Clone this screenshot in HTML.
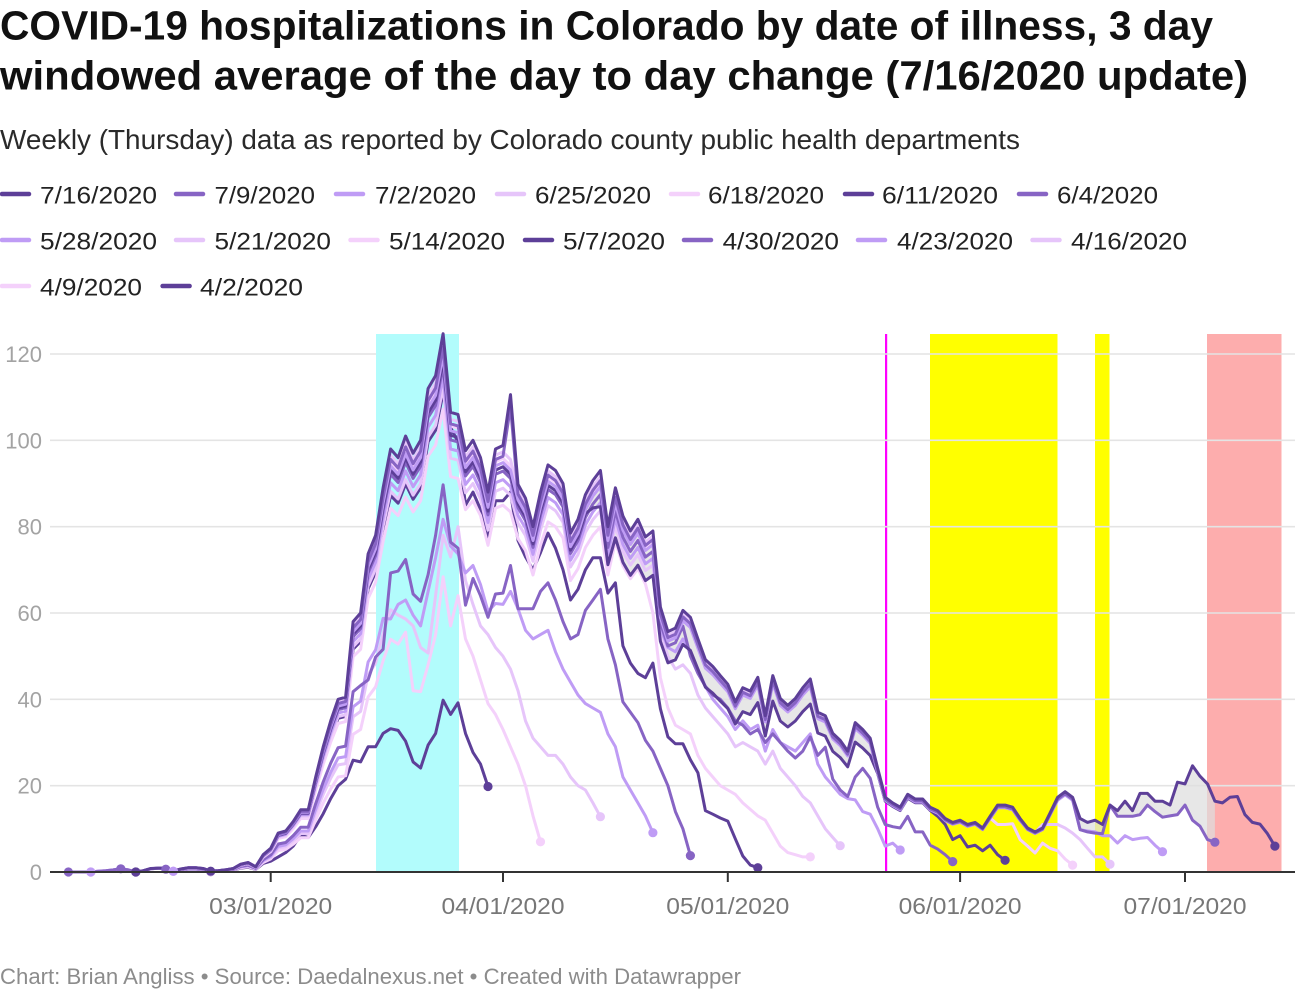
<!DOCTYPE html>
<html><head><meta charset="utf-8">
<style>
html,body{margin:0;padding:0;background:#fff;}
svg{display:block;}
text{font-family:"Liberation Sans",Arial,sans-serif;}
</style></head><body>
<svg id="c" width="1300" height="1000" viewBox="0 0 1300 1000" xmlns="http://www.w3.org/2000/svg">
<rect x="0" y="0" width="1300" height="1000" fill="#fff"/>
<!-- Titles -->
<text x="0" y="39.5" font-size="41" font-weight="bold" fill="#111" textLength="1213" lengthAdjust="spacingAndGlyphs">COVID-19 hospitalizations in Colorado by date of illness, 3 day</text>
<text x="0" y="89.5" font-size="41" font-weight="bold" fill="#111" textLength="1248" lengthAdjust="spacingAndGlyphs">windowed average of the day to day change (7/16/2020 update)</text>
<text x="0" y="149" font-size="28" fill="#2a2a2a" textLength="1020" lengthAdjust="spacingAndGlyphs">Weekly (Thursday) data as reported by Colorado county public health departments</text>

<!-- Legend -->
<g stroke-width="4.5" stroke-linecap="round">
<line x1="2" y1="194" x2="29" y2="194" stroke="#5d3f98"/>
<line x1="176" y1="194" x2="203" y2="194" stroke="#8764c4"/>
<line x1="336" y1="194" x2="363" y2="194" stroke="#bf9cf5"/>
<line x1="497" y1="194" x2="524" y2="194" stroke="#e6c5fa"/>
<line x1="671" y1="194" x2="698" y2="194" stroke="#f4d1fb"/>
<line x1="845" y1="194" x2="872" y2="194" stroke="#5d3f98"/>
<line x1="1019" y1="194" x2="1046" y2="194" stroke="#8764c4"/>

<line x1="2" y1="240" x2="29" y2="240" stroke="#bf9cf5"/>
<line x1="176" y1="240" x2="203" y2="240" stroke="#e6c5fa"/>
<line x1="350.5" y1="240" x2="377.5" y2="240" stroke="#f4d1fb"/>
<line x1="525" y1="240" x2="552" y2="240" stroke="#5d3f98"/>
<line x1="684" y1="240" x2="711" y2="240" stroke="#8764c4"/>
<line x1="858" y1="240" x2="885" y2="240" stroke="#bf9cf5"/>
<line x1="1032.5" y1="240" x2="1059.5" y2="240" stroke="#e6c5fa"/>

<line x1="2" y1="286" x2="29" y2="286" stroke="#f4d1fb"/>
<line x1="162.6" y1="286" x2="189.6" y2="286" stroke="#5d3f98"/>
</g>
<g font-size="24" fill="#222" lengthAdjust="spacingAndGlyphs">
<text x="40" y="203.5" textLength="117" lengthAdjust="spacingAndGlyphs">7/16/2020</text>
<text x="214.5" y="203.5" textLength="100.5" lengthAdjust="spacingAndGlyphs">7/9/2020</text>
<text x="375" y="203.5" textLength="101" lengthAdjust="spacingAndGlyphs">7/2/2020</text>
<text x="535" y="203.5" textLength="116" lengthAdjust="spacingAndGlyphs">6/25/2020</text>
<text x="708" y="203.5" textLength="116" lengthAdjust="spacingAndGlyphs">6/18/2020</text>
<text x="882" y="203.5" textLength="116" lengthAdjust="spacingAndGlyphs">6/11/2020</text>
<text x="1057" y="203.5" textLength="101" lengthAdjust="spacingAndGlyphs">6/4/2020</text>

<text x="40" y="249.5" textLength="117" lengthAdjust="spacingAndGlyphs">5/28/2020</text>
<text x="214.5" y="249.5" textLength="116.5" lengthAdjust="spacingAndGlyphs">5/21/2020</text>
<text x="389" y="249.5" textLength="116" lengthAdjust="spacingAndGlyphs">5/14/2020</text>
<text x="563" y="249.5" textLength="102" lengthAdjust="spacingAndGlyphs">5/7/2020</text>
<text x="722.6" y="249.5" textLength="116.4" lengthAdjust="spacingAndGlyphs">4/30/2020</text>
<text x="897" y="249.5" textLength="116" lengthAdjust="spacingAndGlyphs">4/23/2020</text>
<text x="1071" y="249.5" textLength="116" lengthAdjust="spacingAndGlyphs">4/16/2020</text>

<text x="40" y="295.5" textLength="102" lengthAdjust="spacingAndGlyphs">4/9/2020</text>
<text x="200" y="295.5" textLength="103" lengthAdjust="spacingAndGlyphs">4/2/2020</text>
</g>

<!-- Background bands (under gridlines) -->
<rect x="930" y="334" width="127.5" height="538" fill="#ffff00"/>
<rect x="1095" y="334" width="14.5" height="538" fill="#ffff00"/>
<rect x="1207" y="334" width="74.5" height="538" fill="#fdadad"/>
<rect x="885" y="334" width="2.2" height="538" fill="#ff00ff"/>

<!-- Gridlines -->
<g stroke="#e4e4e4" stroke-width="1.6">
<line x1="50" y1="354" x2="1295" y2="354"/>
<line x1="50" y1="440.3" x2="1295" y2="440.3"/>
<line x1="50" y1="526.7" x2="1295" y2="526.7"/>
<line x1="50" y1="613" x2="1295" y2="613"/>
<line x1="50" y1="699.3" x2="1295" y2="699.3"/>
<line x1="50" y1="785.7" x2="1295" y2="785.7"/>
</g>
<!-- cyan band over gridlines -->
<rect x="376" y="334" width="83" height="538" fill="#b2fcfc"/>

<!-- Y labels -->
<g font-size="22" fill="#a3a3a3" text-anchor="end">
<text x="42" y="362">120</text>
<text x="42" y="448.3">100</text>
<text x="42" y="534.7">80</text>
<text x="42" y="621">60</text>
<text x="42" y="707.3">40</text>
<text x="42" y="793.7">20</text>
<text x="42" y="880">0</text>
</g>

<g id="plot"></g>

<!-- Axis -->
<line x1="50" y1="872" x2="1295" y2="872" stroke="#333" stroke-width="2"/>
<g stroke="#333" stroke-width="2">
<line x1="270.7" y1="872" x2="270.7" y2="882"/>
<line x1="503" y1="872" x2="503" y2="882"/>
<line x1="727.8" y1="872" x2="727.8" y2="882"/>
<line x1="960.1" y1="872" x2="960.1" y2="882"/>
<line x1="1185" y1="872" x2="1185" y2="882"/>
</g>
<g font-size="23.5" fill="#777" text-anchor="middle">
<text x="270.7" y="914" textLength="123" lengthAdjust="spacingAndGlyphs">03/01/2020</text>
<text x="503" y="914" textLength="123" lengthAdjust="spacingAndGlyphs">04/01/2020</text>
<text x="727.8" y="914" textLength="123" lengthAdjust="spacingAndGlyphs">05/01/2020</text>
<text x="960.1" y="914" textLength="123" lengthAdjust="spacingAndGlyphs">06/01/2020</text>
<text x="1185" y="914" textLength="123" lengthAdjust="spacingAndGlyphs">07/01/2020</text>
</g>

<text x="0" y="984" font-size="22" fill="#8c8c8c" textLength="741" lengthAdjust="spacingAndGlyphs">Chart: Brian Angliss • Source: Daedalnexus.net • Created with Datawrapper</text>
</svg>
<script>
(function(){
var F0=[0,0,0,0,0.2,0.3,0.5,0.8,0.5,0,
0.3,0.8,0.9,0.9,0.2,0.7,1.0,1.0,0.8,0.2,
0.3,0.5,0.8,1.8,2.2,1.2,4.0,
5.5,9,9.5,11.7,14.4,14.4,22,29,35,40,
40.5,58,60,73.7,78,89,98,96,101,97,
100,112,115,124.7,106.5,106,97.6,100,96,88,
98,98.8,110.6,89.8,86.6,80,88,94.3,93,90,
78.5,81.7,87.4,90.7,93,80,89,82.5,79,81.7,
77.6,79,61.4,55.7,56.5,60.6,59,54,49.2,47.6,
45.5,43.5,39.4,42.7,41.9,45.1,36.2,45.5,40.2,38.6,
40.2,42.7,44.7,37,36.2,32.1,30.5,28,34.6,33,
31,24,17.3,16,15,18,16.9,16.9,15,14.2,
12.4,11.5,12,11,11.5,10.2,12.9,15.5,15.5,15,
12.4,10.2,9.3,10.2,13.7,17.3,18.6,17.3,12.4,11.5,
12,11,15.5,14.2,16.4,14.2,18.2,18.2,16.4,16.4,
15.5,20.8,20.4,24.6,22.2,20.4,16.4,16,17.3,17.5,
13.3,11.5,11.1,8.9,6.0];
function F(d){var v=F0[d+27];return v===undefined?0:v;}
var COL={dk:'#5d3f98',md:'#8764c4',lt:'#bf9cf5',lr:'#e6c5fa',ls:'#f4d1fb'};
function X(d){return 270.7+7.494*d;}
function Y(v){return 872-v*4.3167;}
function mult(s,d){return (typeof s.m==='function')?s.m(d):s.m;}
function base(s,d){var f=F(d); if(d===32 && s.top!==true) f=97; return f*mult(s,d);}
function vals(s){
  var knots=[];
  if(s.b>=s.s) knots.push([s.b,base(s,s.b)]);
  for(var k in s.t) knots.push([+k,s.t[k]]);
  knots.sort(function(a,b){return a[0]-b[0];});
  var out=[];
  for(var d=s.s; d<=s.e; d++){
    var v;
    if(d<=s.b) v=base(s,d);
    else{
      v=knots[knots.length-1][1];
      for(var i=0;i<knots.length-1;i++){
        if(d>=knots[i][0] && d<=knots[i+1][0]){
          var t=(d-knots[i][0])/(knots[i+1][0]-knots[i][0]);
          v=knots[i][1]+t*(knots[i+1][1]-knots[i][1]);break;
        }
      }
      if(knots.length && d<knots[0][0]) v=knots[0][1];
    }
    out.push([d,Math.max(0,v)]);
  }
  return out;
}
var S=[
 {n:'4/2',c:'dk',s:-8,e:29,m:0.5,b:-1,t:{0:2.5,1:3.5,2:4.5,3:6,4:8.5,5:8,6:10.5,7:13.5,8:17,9:20,10:21.5,11:25.9,12:25.5,13:29,14:29,15:32.1,16:33.2,17:32.8,18:30.3,19:25.5,20:24.1,21:29.4,22:32.1,23:39.8,24:36.5,25:39.2,26:32.1,27:27.7,28:25,29:19.8}},
 {n:'4/9',c:'ls',s:-8,e:36,m:0.55,b:18,t:{19:42,20:41.8,21:48,22:55,23:68.4,24:57,25:64,26:54,27:50,28:44.5,29:39,30:36.5,31:33,32:29,33:25,34:20,35:13,36:7}},
 {n:'4/16',c:'lr',s:-8,e:44,m:0.62,b:17,t:{18:58.6,19:57,20:52,21:50.7,22:64,23:78,24:73,25:80,26:67.5,27:62,28:57,29:55,30:52,31:50,32:47,33:42,34:35,35:31,36:29,37:27,38:27,39:25,40:22,41:20,42:19,43:16,44:12.8}},
 {n:'4/23',c:'lt',s:-13,e:51,m:0.66,b:15,t:{16:58.6,17:62,18:63,19:59.5,20:57,21:65,22:72.8,23:81.7,24:75.5,25:73.7,26:69.3,27:71,28:66.6,29:60.4,30:62.2,31:62,32:65,33:61,34:56,35:54,36:55,37:56,38:51,39:47,40:44,41:41,42:39,43:38,44:37,45:32,46:29,47:22,48:19,49:16,50:13,51:9.1}},
 {n:'4/30',c:'md',s:-14,e:56,m:0.72,b:12,t:{13:44.5,14:49.8,15:51.6,16:69.3,17:69.7,18:72.4,19:64.4,20:62.7,21:68.9,22:78,23:89.7,24:76.4,25:75,26:61.8,27:68,28:64,29:59,30:64.4,31:64.6,32:71,33:61,34:61,35:61,36:65,37:67,38:63,39:58,40:54,41:55,42:60.6,43:63,44:65.5,45:54,46:48,47:39.4,48:37,49:34.6,50:30.5,51:28,52:24,53:20,54:14,55:10,56:3.8}},
 {n:'5/7',c:'dk',s:-8,e:65,m:0.89,b:22,t:{23:111,24:103,25:99.6,26:85,27:88,28:84,29:77,30:86,31:86,32:88,33:76.8,34:73,35:70,36:74,37:78.5,38:75,39:70,40:63,41:65.5,42:70,43:72.8,44:72.8,45:64.6,46:67,47:52.4,48:48.4,49:46,50:45,51:48.4,52:37.8,53:31.3,54:29.7,55:29.7,56:26,57:23,58:14.2,59:13.4,60:12.5,61:11.8,62:7.7,63:3.7,64:1.6,65:1}},
 {n:'5/14',c:'ls',s:-13,e:72,m:0.86,b:50,t:{51:60,52:45,53:38,54:34,55:33,56:32,57:27,58:24,59:22,60:20,61:19,62:18,63:16,64:14.5,65:13,66:12,67:9,68:6,69:4.5,70:4,71:3.5,72:3.5}},
 {n:'5/21',c:'lr',s:-13,e:76,m:0.9,b:51,t:{52:56,53:50,54:47,55:48,56:46,57:41,58:38,59:36,60:34,61:32,62:29,63:30,64:29,65:28,66:25,67:28,68:24,69:22,70:20,71:17.5,72:16,73:13,74:10,75:8,76:6.1}},
 {n:'5/28',c:'lt',s:-13,e:84,m:0.92,b:52,t:{53:52,54:51,55:54,56:51,57:47,58:43,59:40,60:38,61:36,62:33,63:35,64:33,65:34,66:28,67:33,68:30,69:29,70:28,71:30,72:32,73:25,74:22,75:20,76:18,77:17,78:16.7,79:14,80:13.4,81:10,82:6,83:6.7,84:5.1}},
 {n:'6/4',c:'md',s:-20,e:91,m:0.94,b:55,t:{56:50,57:46,58:43,59:41,60:40,61:38,62:35,63:34,64:32,65:33,66:30,67:32,68:30,69:28,70:26.4,71:28,72:31.3,73:27,74:28.9,75:21.5,76:19,77:17.5,78:22,79:24,80:21.7,81:15,82:11,83:10.5,84:10.2,85:12.9,86:9.3,87:9.3,88:6.2,89:5.3,90:4,91:2.4}},
 {n:'6/11',c:'dk',s:-18,e:98,m:function(d){if(d<42)return 0.95;if(d<46)return 0.95-(d-42)*0.02;if(d>80)return 0.95;return 0.87;},b:88,t:{89:12.9,90:11,91:7.5,92:8.4,93:5.8,94:6.2,95:4.9,96:6.2,97:4,98:2.7}},
 {n:'6/18',c:'ls',s:-24,e:107,m:0.97,b:96,t:{97:11,98:11,99:11.2,100:7.5,101:6,102:4.4,103:6.7,104:5.5,105:4.9,106:3,107:1.6}},
 {n:'6/25',c:'lr',s:-24,e:112,m:0.985,b:102,t:{103:11,104:11,105:11,106:10.2,107:9,108:7.5,109:5.5,110:3.5,111:3.5,112:1.8}},
 {n:'7/2',c:'lt',s:-24,e:119,m:0.96,b:107,t:{108:9.8,109:9.5,110:9.3,111:8.4,112:8.4,113:6.7,114:8.4,115:7.5,116:7.8,117:8,118:6.2,119:4.7}},
 {n:'7/9',c:'md',s:-27,e:126,m:0.975,b:107,top:true,t:{108:9.8,109:9.3,110:9,111:8.9,112:15.5,113:12.9,114:12.9,115:12.9,116:13.3,117:15.5,118:14,119:12.7,120:13,121:13.3,122:15.5,123:12,124:10.6,125:7.5,126:6.9}},
 {n:'7/16',c:'dk',s:-18,e:134,m:1,b:200,top:true,t:{}}
];
var NS='http://www.w3.org/2000/svg';
var g=document.getElementById('plot');
var V={};
S.forEach(function(s){V[s.n]=vals(s);});
function get(n,d){var a=V[n];for(var i=0;i<a.length;i++)if(a[i][0]===d)return a[i][1];return null;}
function poly(upper,lower,d0,d1){
  var p=[];
  for(var d=d0;d<=d1;d++)p.push(X(d).toFixed(1)+','+Y(get(upper,d)).toFixed(1));
  for(var d2=d1;d2>=d0;d2--)p.push(X(d2).toFixed(1)+','+Y(get(lower,d2)).toFixed(1));
  var el=document.createElementNS(NS,'polygon');
  el.setAttribute('points',p.join(' '));
  el.setAttribute('fill','rgba(222,222,222,0.72)');
  g.appendChild(el);
}
poly('7/9','6/11',40,88);
poly('7/16','7/9',88,126);
S.forEach(function(s){
  var a=V[s.n];
  var d='M'+a.map(function(p){return X(p[0]).toFixed(1)+' '+Y(p[1]).toFixed(1);}).join(' L');
  var el=document.createElementNS(NS,'path');
  el.setAttribute('d',d);
  el.setAttribute('fill','none');
  el.setAttribute('stroke',COL[s.c]);
  el.setAttribute('stroke-width','3');
  el.setAttribute('stroke-linejoin','round');
  el.setAttribute('stroke-linecap','round');
  g.appendChild(el);
});
S.forEach(function(s){
  var a=V[s.n];
  [a[0],a[a.length-1]].forEach(function(p){
    var c=document.createElementNS(NS,'circle');
    c.setAttribute('cx',X(p[0]).toFixed(1));
    c.setAttribute('cy',Y(p[1]).toFixed(1));
    c.setAttribute('r','4.6');
    c.setAttribute('fill',COL[s.c]);
    g.appendChild(c);
  });
});
})();
</script>
</body></html>
